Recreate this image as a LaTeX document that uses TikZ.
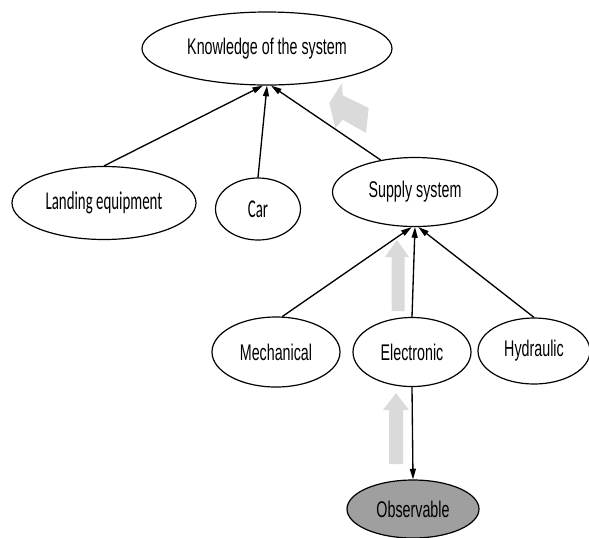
\documentclass[tikz,border=0pt]{standalone}
\usepackage{fontspec}
\newfontfamily\narrowsans[FakeStretch=0.63]{Liberation Sans}
\newfontfamily\narrowcal[FakeStretch=0.58]{Carlito}
\usetikzlibrary{shapes.geometric}
\usetikzlibrary{arrows.meta}

\begin{document}
\begin{tikzpicture}[x=0.75pt,y=0.75pt,yscale=-1,xscale=1,
  bubble/.style={ellipse, draw, line width=0.9pt, inner sep=0pt, font=\narrowsans\fontsize{17}{19}\selectfont},
  calbubble/.style={bubble, font=\narrowcal\fontsize{19.25}{21}\selectfont},
  link/.style={line width=1pt, -{Triangle[length=8pt,width=4.5pt]}},
  hint/.style={fill=gray!29}]
\useasboundingbox (0,0) rectangle (589,537);

% Ellipses
\node (know) [bubble, minimum width=187.5pt, minimum height=54.75pt] at (267,48.5) {Knowledge of the system};
\node (land) [calbubble, minimum width=138pt, minimum height=54.75pt] at (104,203) {Landing equipment};
\node (car) [calbubble, minimum width=63.75pt, minimum height=46.5pt] at (258,209) {Car};
\node (supply) [bubble, minimum width=123.75pt, minimum height=51.75pt] at (415,192) {Supply system};
\node (mech) [bubble, minimum width=96pt, minimum height=52.5pt] at (276,352) {Mechanical};
\node (elec) [bubble, minimum width=88.5pt, minimum height=51.75pt] at (412,352) {Electronic};
\node (hyd) [bubble, minimum width=84pt, minimum height=49.5pt] at (534,351) {Hydraulic};
\node (obs) [bubble, fill=gray!75, minimum width=99pt, minimum height=43.5pt] at (413,509) {Observable};

% Grey hint arrows
\fill [hint] (329.3,103) -- (342,83) -- (342.7,95.3) -- (368.7,108) -- (366,133) -- (342.7,119.7) -- (335.3,128) -- cycle ;
\fill [hint] (397,240) -- (409,257) -- (404.5,257) -- (404.5,311) -- (391.5,311) -- (391.5,257) -- (385,257) -- cycle ;
\fill [hint] (396,393) -- (409,410) -- (403,410) -- (403,464) -- (389,464) -- (389,410) -- (383,410) -- cycle ;

% Connections
\draw [link] (land.north) -- ([xshift=-3pt]know.south) ;
\draw [link] (car.north) -- (know.south) ;
\draw [link] (supply.137) -- ([xshift=3pt]know.south) ;
\draw [link] (mech.80) -- ([xshift=-2.5pt]supply.south) ;
\draw [link] (elec.north) -- (supply.south) ;
\draw [link] (hyd.north) -- ([xshift=2.5pt]supply.south) ;
\draw [link] (elec.south) -- (obs.north) ;

\end{tikzpicture}
\end{document}
